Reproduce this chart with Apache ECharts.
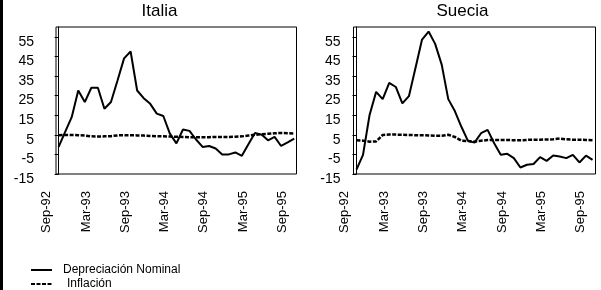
<!DOCTYPE html>
<html>
<head>
<meta charset="utf-8">
<script src="https://cdn.jsdelivr.net/npm/echarts@6/dist/echarts.min.js"></script>
<style>
  html, body { margin: 0; padding: 0; background: #fff; }
  #chart { width: 601px; height: 290px; }
</style>
</head>
<body>
<div id="chart"></div>
<script>
// meses (sep-92 a sep-95)
var months = ['Sep-92','Oct-92','Nov-92','Dec-92',
  'Jan-93','Feb-93','Mar-93','Apr-93','May-93','Jun-93','Jul-93','Aug-93','Sep-93','Oct-93','Nov-93','Dec-93',
  'Jan-94','Feb-94','Mar-94','Apr-94','May-94','Jun-94','Jul-94','Aug-94','Sep-94','Oct-94','Nov-94','Dec-94',
  'Jan-95','Feb-95','Mar-95','Apr-95','May-95','Jun-95','Jul-95','Aug-95','Sep-95'];
var xTickLabels = ['Sep-92','Mar-93','Sep-93','Mar-94','Sep-94','Mar-95','Sep-95'];

var italiaDep = [-1.2, 6.5, 14, 27.6, 21.7, 29, 29, 18.3, 21.7, 32.7, 44, 47.5, 27.6, 23.7, 20.8, 15.8, 14.6, 5.6, 0.6,
  7.7, 7.0, 2.6, -1.2, -0.7, -2.0, -5.0, -5.0, -4.0, -5.7, 0.2, 5.9, 5.1, 2.2, 3.9, -0.7, 1.1, 3.1];
var italiaInf = [4.8, 4.9, 4.9, 4.8, 4.6, 4.2, 4.1, 4.2, 4.3, 4.7, 4.8, 4.8, 4.7, 4.6, 4.4, 4.3, 4.2, 4.1, 4.0,
  3.9, 3.8, 3.8, 3.8, 3.8, 3.9, 3.9, 3.9, 4.0, 4.2, 4.6, 5.0, 5.3, 5.5, 5.8, 5.9, 5.8, 5.7];
var sueciaDep = [-12.8, -5.2, 15.1, 26.9, 23.2, 31.5, 29.4, 21.0, 24.7, 39.1, 53.6, 57.7, 51.4, 40.8, 23.2, 17.1, 9.1, 1.9, 1.0,
  5.8, 7.5, 0.7, -5.2, -4.7, -6.9, -11.7, -10.3, -9.9, -6.4, -8.3, -5.6, -6.1, -6.9, -5.2, -9.1, -5.6, -7.8];
var sueciaInf = [2.2, 2.0, 1.5, 1.6, 4.9, 5.1, 5.1, 5.0, 4.9, 4.8, 4.8, 4.7, 4.5, 4.5, 5.0, 3.9, 2.0, 1.8, 1.5,
  2.0, 2.3, 2.4, 2.4, 2.4, 2.2, 2.2, 2.4, 2.5, 2.5, 2.6, 2.7, 3.1, 2.7, 2.5, 2.5, 2.4, 2.2];

var font = 'Arial, "Liberation Sans", sans-serif';
var labelShiftPx = 11.8; // las etiquetas del eje x van algo a la izquierda (como en Excel)
var tickPos = xTickLabels.map(function (m) { return months.indexOf(m); });

function pairs(arr) {
  return arr.map(function (v, i) { return [i, v]; });
}

function dataAxis(g, min, max) {
  return { gridIndex: g, type: 'value', min: min, max: max, show: false };
}

// eje solo para las etiquetas, en una rejilla invisible desplazada
function labelAxis(g, min, max) {
  return {
    gridIndex: g, type: 'value', position: 'bottom', min: min, max: max,
    axisLine: { show: false }, axisTick: { show: false }, splitLine: { show: false },
    axisLabel: {
      customValues: tickPos,
      formatter: function (v) { return months[Math.round(v)]; },
      rotate: 90, margin: 17, fontSize: 13, color: '#000', fontFamily: font
    }
  };
}

function yAxis(g, margin) {
  return {
    gridIndex: g, type: 'value', min: -15, max: 60, interval: 10,
    axisLine: { show: true, lineStyle: { color: '#000', width: 1 } },
    axisTick: { show: true, length: 4, lineStyle: { color: '#000' } },
    splitLine: { show: false },
    axisLabel: { showMaxLabel: false, fontSize: 14, color: '#000', margin: margin,
      verticalAlign: 'top', lineHeight: 10, fontFamily: font }
  };
}

function hiddenY(g) {
  return { gridIndex: g, type: 'value', min: -15, max: 60, show: false };
}

function depSeries(x, y, data) {
  return { type: 'line', name: 'Depreciación Nominal', xAxisIndex: x, yAxisIndex: y,
    data: pairs(data), symbol: 'none', z: 3,
    itemStyle: { color: '#000' },
    lineStyle: { color: '#000', width: 2 } };
}

function infSeries(x, y, data) {
  return { type: 'line', name: 'Inflación', xAxisIndex: x, yAxisIndex: y,
    data: pairs(data), symbol: 'none', z: 2,
    itemStyle: { color: '#000' },
    lineStyle: { color: '#000', width: 2.5, type: [4, 1.5] } };
}

var gItalia = { left: 56, top: 27, width: 240.5, height: 147 };
var gSuecia = { left: 353.5, top: 27, width: 242, height: 147 };

var chart = echarts.init(document.getElementById('chart'));
chart.setOption({
  animation: false,
  backgroundColor: '#fff',
  title: [
    { text: 'Italia', left: 141.5, top: 3, padding: 0,
      textStyle: { fontSize: 17, fontWeight: 'normal', color: '#000', fontFamily: font } },
    { text: 'Suecia', left: 436.5, top: 3, padding: 0,
      textStyle: { fontSize: 17, fontWeight: 'normal', color: '#000', fontFamily: font } }
  ],
  grid: [
    { left: gItalia.left, top: gItalia.top, width: gItalia.width, height: gItalia.height,
      show: true, borderColor: '#000', borderWidth: 1 },
    { left: gSuecia.left, top: gSuecia.top, width: gSuecia.width, height: gSuecia.height,
      show: true, borderColor: '#000', borderWidth: 1 },
    { left: gItalia.left - labelShiftPx, top: gItalia.top, width: gItalia.width, height: gItalia.height },
    { left: gSuecia.left - labelShiftPx, top: gSuecia.top, width: gSuecia.width, height: gSuecia.height }
  ],
  xAxis: [
    dataAxis(0, -0.4, 36.35), dataAxis(1, -0.45, 36.45),
    labelAxis(2, -0.4, 36.35), labelAxis(3, -0.45, 36.45)
  ],
  yAxis: [yAxis(0, 22), yAxis(1, 13), hiddenY(2), hiddenY(3)],
  legend: {
    orient: 'vertical', left: 30, top: 264, padding: 0,
    itemWidth: 21, itemHeight: 10, itemGap: 2,
    data: ['Depreciación Nominal', 'Inflación'],
    itemStyle: { color: 'rgba(0,0,0,0)', borderWidth: 0, opacity: 0 },
    formatter: function (name) {
      return name === 'Inflación' ? '{i|' + name + '}' : '{d|' + name + '}';
    },
    textStyle: {
      color: '#000', fontSize: 12, fontFamily: font,
      rich: {
        d: { fontSize: 12, color: '#000', fontFamily: font, padding: [0, 0, 0, 6] },
        i: { fontSize: 12, color: '#000', fontFamily: font, padding: [0, 0, 0, 10] }
      }
    }
  },
  graphic: [
    { type: 'rect', left: 0, top: 0, shape: { x: 0, y: 0, width: 3, height: 290 },
      style: { fill: '#000' } }
  ],
  series: [
    infSeries(0, 0, italiaInf), depSeries(0, 0, italiaDep),
    infSeries(1, 1, sueciaInf), depSeries(1, 1, sueciaDep),
    // series vacías para que los ejes de etiquetas tengan rejilla
    { type: 'line', xAxisIndex: 2, yAxisIndex: 2, data: [] },
    { type: 'line', xAxisIndex: 3, yAxisIndex: 3, data: [] }
  ]
});
</script>
</body>
</html>
